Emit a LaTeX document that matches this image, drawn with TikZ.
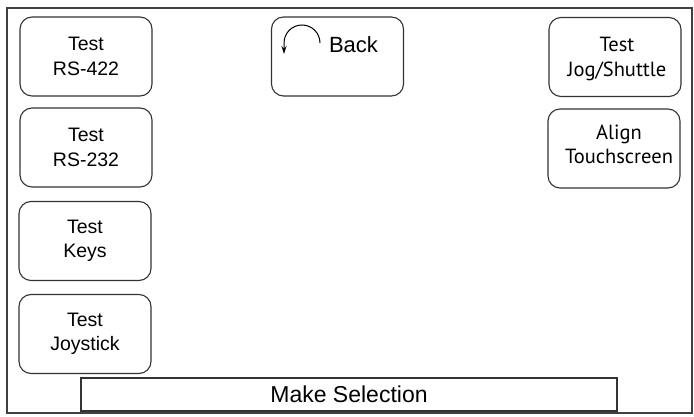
\documentclass[tikz,border=0pt]{standalone}
\usepackage{fontspec}
\usetikzlibrary{arrows.meta}
\setmainfont{Liberation Sans}
\newfontfamily\humfont{PT Sans}
\begin{document}
\begin{tikzpicture}[x=1pt,y=-1pt,
  btn/.style={draw=black!80, line width=1.1pt, rounded corners=12pt,
    minimum width=132pt, minimum height=79pt, inner sep=0pt, align=center,
    font=\fontsize{19.5}{24.5}\selectfont},
  hlbl/.style={inner sep=0pt, align=center, font=\humfont\fontsize{20.5}{24.5}\selectfont},
  frame/.style={draw=black!75, line width=1.3pt},
  bar/.style={draw=black!80, line width=1.5pt, minimum width=536pt, minimum height=33pt,
    inner sep=0pt, font=\fontsize{23}{27}\selectfont}]
\useasboundingbox (0,0) rectangle (694,417);
\fill[white] (0,0) rectangle (694,417);
\draw[frame] (7,8) rectangle (692,413);
\node[btn] (r422) at (86,56.5) {Test\\RS-422};
\node[btn] (r232) at (86,147.5) {Test\\RS-232};
\node[btn] (keys) at (85,241) {Test\\Keys};
\node[btn] (joy) at (85,334) {Test\\Joystick};
\node[btn] (back) at (337.5,56.5) {};
\node[font=\fontsize{22}{26}\selectfont, inner sep=0pt] (backlbl) at (353.5,45) {Back};
\draw[line width=1pt, -{Stealth[length=8pt,width=5pt]}] (320,43) arc[start angle=0, end angle=-180, radius=18] -- ++(0,11);
\node[btn] (jog) at (615,57) {};
\node[hlbl] (joglbl) at (617,59) {Test\\Jog/Shuttle};
\node[btn] (align) at (614,148.5) {};
\node[hlbl] (alignlbl) at (619,144.5) {Align\\Touchscreen};
\node[bar] (make) at (349,394.5) {Make Selection};
\end{tikzpicture}
\end{document}
